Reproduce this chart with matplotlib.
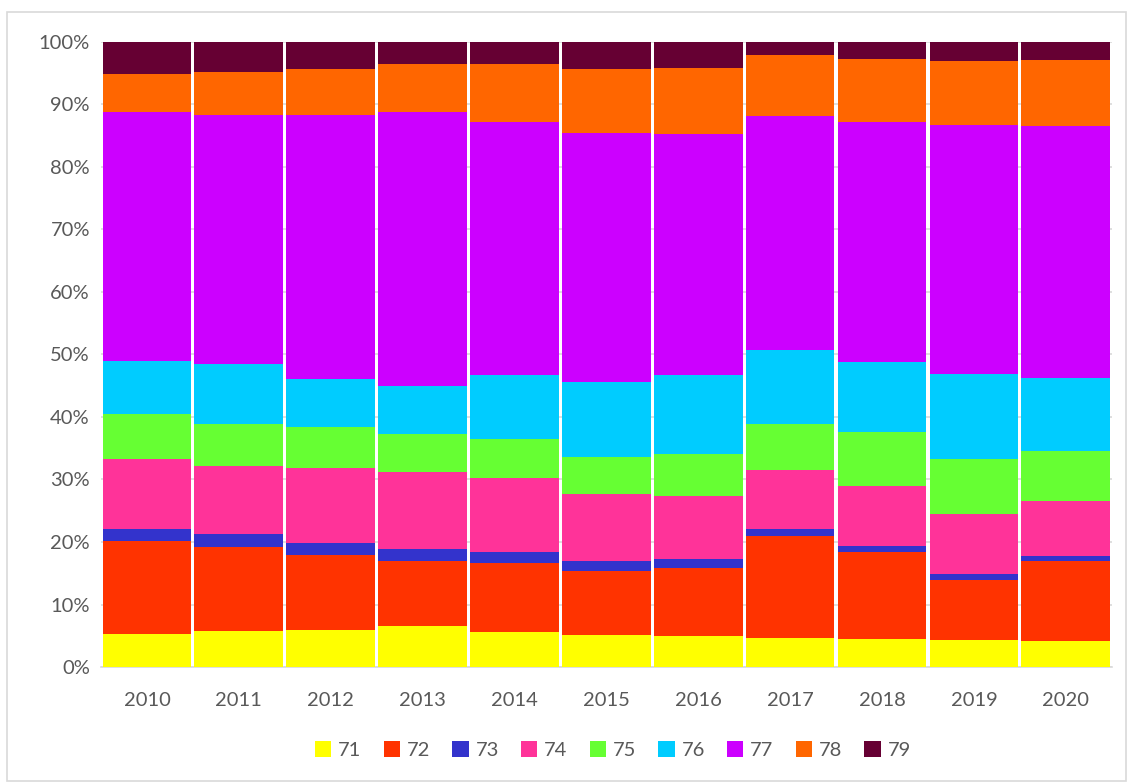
import numpy as np
import matplotlib
matplotlib.use("Agg")
from matplotlib import pyplot as plt
from matplotlib.patches import Rectangle
from matplotlib.ticker import PercentFormatter

years = ['2010', '2011', '2012', '2013', '2014', '2015', '2016', '2017', '2018', '2019', '2020']
series = ['71', '72', '73', '74', '75', '76', '77', '78', '79']

# shares in percent
s71 = [5.3, 5.7, 5.9, 6.6, 5.6, 5.1, 5.0, 4.6, 4.4, 4.4, 4.1]
s72 = [14.8, 13.5, 12.0, 10.3, 11.0, 10.2, 10.9, 16.3, 14.0, 9.5, 12.8]
s73 = [2.0, 2.1, 2.0, 1.9, 1.8, 1.6, 1.4, 1.2, 1.0, 1.0, 0.8]
s74 = [11.2, 10.9, 12.0, 12.4, 11.9, 10.8, 10.0, 9.4, 9.6, 9.6, 8.8]
s75 = [7.2, 6.6, 6.5, 6.1, 6.2, 6.0, 6.8, 7.3, 8.6, 8.8, 8.0]
s76 = [8.5, 9.7, 7.7, 7.6, 10.2, 12.0, 12.6, 11.9, 11.2, 13.5, 11.6]
s77 = [39.7, 39.8, 42.3, 43.9, 40.6, 39.8, 38.4, 37.4, 38.2, 39.9, 40.4]
s78 = [6.2, 6.9, 7.3, 7.6, 9.3, 10.3, 10.6, 9.7, 10.1, 10.2, 10.5]
s79 = [5.1, 4.8, 4.4, 3.6, 3.5, 4.3, 4.2, 2.2, 2.8, 3.1, 2.9]

colors = ['#FFFF00', '#FF3300', '#3333CC', '#FF3399', '#66FF33',
          '#00CCFF', '#CC00FF', '#FF6600', '#660033']

data = np.array([s71, s72, s73, s74, s75, s76, s77, s78, s79])
data = data / data.sum(axis=0) * 100

plt.rcParams['font.family'] = ['Lato', 'DejaVu Sans']
txt = '#595959'

fig = plt.figure(figsize=(11.31, 7.83), dpi=100)
ax = fig.add_axes([0.0893, 0.1481, 0.8937, 0.7986])

x = np.arange(len(years))
bottom = np.zeros(len(years))
for i in range(len(series)):
    ax.bar(x, data[i], bottom=bottom, width=0.965, color=colors[i],
           label=series[i], zorder=3, edgecolor='none')
    bottom = bottom + data[i]

ax.set_ylim(0, 100)
ax.set_xlim(-0.5, len(years) - 0.5)
ax.set_yticks(np.arange(0, 101, 10))
ax.yaxis.set_major_formatter(PercentFormatter(decimals=0))
ax.set_xticks(x)
ax.set_xticklabels(years)
ax.grid(axis='y', color='#D9D9D9', linewidth=1.2, zorder=0)
for sp in ['top', 'right', 'left']:
    ax.spines[sp].set_visible(False)
ax.spines['bottom'].set_color('#D9D9D9')
ax.spines['bottom'].set_linewidth(1.2)
ax.tick_params(axis='both', length=0, labelsize=14.5, colors=txt)
ax.tick_params(axis='x', pad=18)
ax.tick_params(axis='y', pad=8)

leg = fig.legend(loc='center', bbox_to_anchor=(0.542, 0.042), ncol=9,
                 frameon=False, fontsize=14.5, handlelength=0.8, handleheight=0.8,
                 handletextpad=0.35, columnspacing=1.1)
for t in leg.get_texts():
    t.set_color(txt)

fig.patches.append(Rectangle((0.006, 0.003), 0.99, 0.982, transform=fig.transFigure,
                             fill=False, edgecolor='#D9D9D9', linewidth=1.2))

fig.savefig('out.png', dpi=100)
